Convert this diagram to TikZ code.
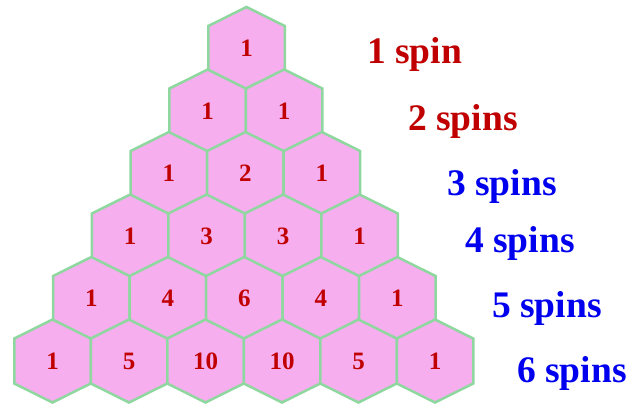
\documentclass[tikz,border=0pt]{standalone}
\usepackage{fontspec}
\setmainfont{Liberation Serif}
\usetikzlibrary{calc}
\definecolor{hexfill}{HTML}{F6AEEE}
\definecolor{hexedge}{HTML}{8ED8A0}
\definecolor{numred}{HTML}{C00000}
\definecolor{labblue}{HTML}{0000EE}
\begin{document}
\begin{tikzpicture}[x=1pt,y=-1pt,
  hexcell/.style={fill=hexfill,draw=hexedge,line width=2.5pt,line join=miter},
  hexnum/.style={text=numred,font=\fontsize{25}{25}\selectfont\bfseries,inner sep=0pt},
  spinlab/.style={font=\fontsize{37.5}{37.5}\selectfont\bfseries,anchor=base west,inner sep=0pt}]
\useasboundingbox (0,0) rectangle (627,405);
\foreach \r/\vals in {1/{1},2/{1,1},3/{1,2,1},4/{1,3,3,1},5/{1,4,6,4,1},6/{1,5,10,10,5,1}} {
  \foreach \v [count=\k from 0] in \vals {
    \coordinate (c\r-\k) at ({246.5-(\r-1)*38.8+\k*76.5},{48.5+(\r-1)*62.5});
    \draw[hexcell] ($(c\r-\k)+(0,-41.5)$) -- ++(38.25,19) -- ++(0,45) -- ++(-38.25,19) -- ++(-38.25,-19) -- ++(0,-45) -- cycle;
    \node[hexnum] (n\r-\k) at (c\r-\k) {\v};
  }
}
\node[spinlab,text=numred] (l1) at (367,63) {1 spin};
\node[spinlab,text=numred] (l2) at (408,130) {2 spins};
\node[spinlab,text=labblue] (l3) at (447,195) {3 spins};
\node[spinlab,text=labblue] (l4) at (465,252) {4 spins};
\node[spinlab,text=labblue] (l5) at (492,317) {5 spins};
\node[spinlab,text=labblue] (l6) at (517,382) {6 spins};
\end{tikzpicture}
\end{document}
